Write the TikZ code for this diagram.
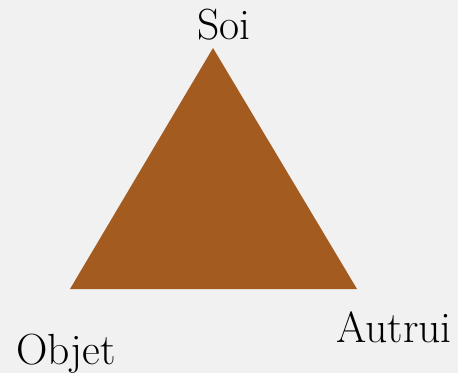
\documentclass[tikz,border=0pt]{standalone}
\usepackage{xcolor}
\usepackage{tikz}
\definecolor{TriBrown}{HTML}{A35B1F}
\definecolor{PaperGray}{HTML}{F1F1F1}

\begin{document}
\begin{tikzpicture}[x=0.025cm,y=-0.025cm,
  lbl/.style={anchor=base,inner sep=0pt,font=\fontsize{31}{36}\selectfont},
  tri/.style={fill=TriBrown,draw=none}]
  \fill[PaperGray] (0,0) rectangle (458,373);
  \useasboundingbox (0,0) rectangle (458,373);
  \coordinate (soi) at (213,48);
  \coordinate (objet) at (70,289);
  \coordinate (autrui) at (357,289);
  \fill[tri] (soi) -- (autrui) -- (objet) -- cycle;
  \node[lbl] (tsoi) at (224,40) {Soi};
  \node[lbl] (tobjet) at (66,364) {Objet};
  \node[lbl] (tautrui) at (394,342) {Autrui};
\end{tikzpicture}
\end{document}
